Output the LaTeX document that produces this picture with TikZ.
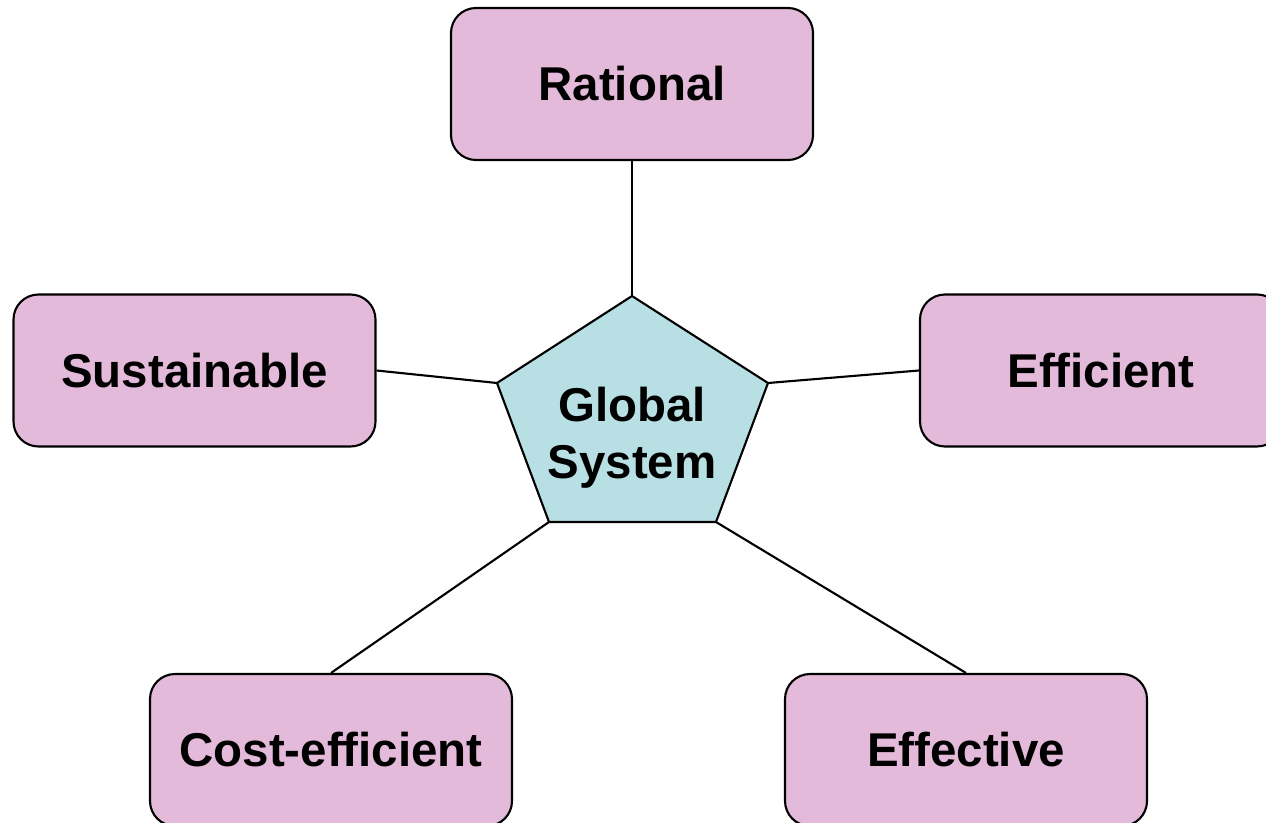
\documentclass[tikz,border=0pt]{standalone}
\usepackage{fontspec}
\setmainfont{Liberation Sans}
\definecolor{boxpink}{HTML}{E3BAD9}
\definecolor{pentcyan}{HTML}{B8DFE3}
\begin{document}
\begin{tikzpicture}[
      line width=1.2pt,
      box/.style={rectangle, rounded corners=0.5cm, draw, fill=boxpink,
        minimum width=7.24cm, minimum height=3.04cm,
        font=\fontsize{27}{32.4}\selectfont\bfseries},
      centre/.style={align=center, font=\fontsize{27}{32.4}\selectfont\bfseries}
    ]
    \useasboundingbox (0,0) rectangle (25.32,16.44);

    % pentagon corners
    \coordinate (ptop) at (12.64,10.52);
    \coordinate (pul) at (9.94,8.78);
    \coordinate (pur) at (15.36,8.78);
    \coordinate (pll) at (10.98,6.00);
    \coordinate (plr) at (14.32,6.00);
    \draw[fill=pentcyan] (ptop) -- (pur) -- (plr) -- (pll) -- (pul) -- cycle;
    \node[centre] (global) at (12.64,7.68) {Global\\System};

    \node[box] (rational) at (12.64,14.76) {Rational};
    \node[box] (sustainable) at (3.89,9.03) {Sustainable};
    \node[box] (efficient) at (22.02,9.03) {Efficient};
    \node[box] (costeff) at (6.62,1.44) {Cost-efficient};
    \node[box] (effective) at (19.32,1.44) {Effective};

    \draw (rational.south) -- (ptop);
    \draw (sustainable.east) -- (pul);
    \draw (efficient.west) -- (pur);
    \draw (costeff.north) -- (pll);
    \draw (effective.north) -- (plr);

    \end{tikzpicture}
\end{document}
